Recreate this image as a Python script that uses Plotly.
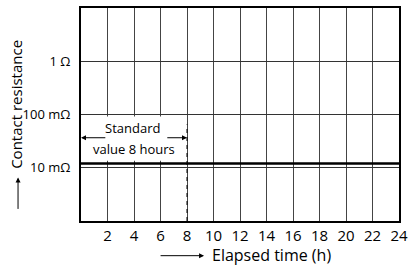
import math
import plotly.graph_objects as go

# ---- data ----
x_tick_hours = [2, 4, 6, 8, 10, 12, 14, 16, 18, 20, 22, 24]
y_tick_values = [0.01, 0.1, 1]
y_tick_labels = ["10 mΩ", "100 mΩ", "1 Ω"]
resistance_time = [0, 24]
resistance_value = [0.012, 0.012]
standard_hours = [8, 8]
standard_marker_span = [0.001, 0.065]

FONT = "Open Sans"
L = math.log10

fig = go.Figure()

# contact resistance line
fig.add_trace(go.Scatter(x=resistance_time, y=resistance_value, mode="lines",
                         line=dict(color="black", width=2.5),
                         hoverinfo="skip", showlegend=False))
# dashed standard-value line
fig.add_trace(go.Scatter(x=standard_hours, y=standard_marker_span, mode="lines",
                         line=dict(color="black", width=1, dash="4px,4px"),
                         hoverinfo="skip", showlegend=False))

# white box behind annotation text (hides grid)
fig.add_shape(type="rect", xref="x", yref="y", x0=0.1, x1=7.5, y0=0.0135, y1=0.092,
              fillcolor="white", line=dict(width=0), layer="above")

# double arrow pieces
yA = L(0.0366)
fig.add_annotation(x=0, y=yA, ax=1.95, ay=yA, axref="x", ayref="y", xref="x", yref="y",
                   text="", showarrow=True, arrowhead=2, arrowsize=1, arrowwidth=1,
                   arrowcolor="black")
fig.add_annotation(x=8, y=yA, ax=6.4, ay=yA, axref="x", ayref="y", xref="x", yref="y",
                   text="", showarrow=True, arrowhead=2, arrowsize=1, arrowwidth=1,
                   arrowcolor="black")
fig.add_annotation(x=3.9, y=L(0.0561), xref="x", yref="y", text="Standard", showarrow=False,
                   font=dict(family=FONT, size=13, color="black"))
fig.add_annotation(x=4.0, y=L(0.0228), xref="x", yref="y", text="value 8 hours", showarrow=False,
                   font=dict(family=FONT, size=13, color="black"))

# y title + arrow
fig.add_annotation(x=-0.204, y=0.546, xref="paper", yref="paper", text="Contact resistance",
                   textangle=-90, showarrow=False, xanchor="center", yanchor="middle",
                   font=dict(family=FONT, size=15, color="black"))
fig.add_annotation(x=-0.198, y=(221 - 177) / 215, xref="paper", yref="paper", text="",
                   showarrow=True, ax=0, ay=33, arrowhead=2, arrowsize=1, arrowwidth=1,
                   arrowcolor="black")
# x title + arrow
fig.add_annotation(x=(274 - 81) / 323, y=(221 - 255) / 215, xref="paper", yref="paper",
                   text="Elapsed time (h)", showarrow=False, xanchor="center", yanchor="middle",
                   font=dict(family=FONT, size=16, color="black"))
fig.add_annotation(x=(206 - 81) / 323, y=(221 - 256) / 215, xref="paper", yref="paper", text="",
                   showarrow=True, ax=-45, ay=0, arrowhead=2, arrowsize=1, arrowwidth=1,
                   arrowcolor="black")

fig.update_layout(
    width=414, height=268,
    margin=dict(l=81, r=10, t=6, b=47),
    paper_bgcolor="white", plot_bgcolor="white",
    showlegend=False,
    font=dict(family=FONT, size=15, color="black"),
)
fig.update_xaxes(range=[0, 24], tickvals=x_tick_hours, ticktext=[str(v) for v in x_tick_hours],
                 showgrid=True, gridcolor="#444", gridwidth=1,
                 showline=True, linecolor="black", linewidth=2, mirror=True,
                 ticks="", zeroline=False, tickfont=dict(family=FONT, size=15))
fig.update_yaxes(type="log", range=[-3, 1], tickvals=y_tick_values, ticktext=y_tick_labels,
                 showgrid=True, gridcolor="#333", gridwidth=1,
                 showline=True, linecolor="black", linewidth=2, mirror=True,
                 ticks="", zeroline=False, ticklabelstandoff=6,
                 tickfont=dict(family=FONT, size=13))

fig.write_html("out.html", config={"displayModeBar": False},
               post_script="document.body.style.margin='0';")
